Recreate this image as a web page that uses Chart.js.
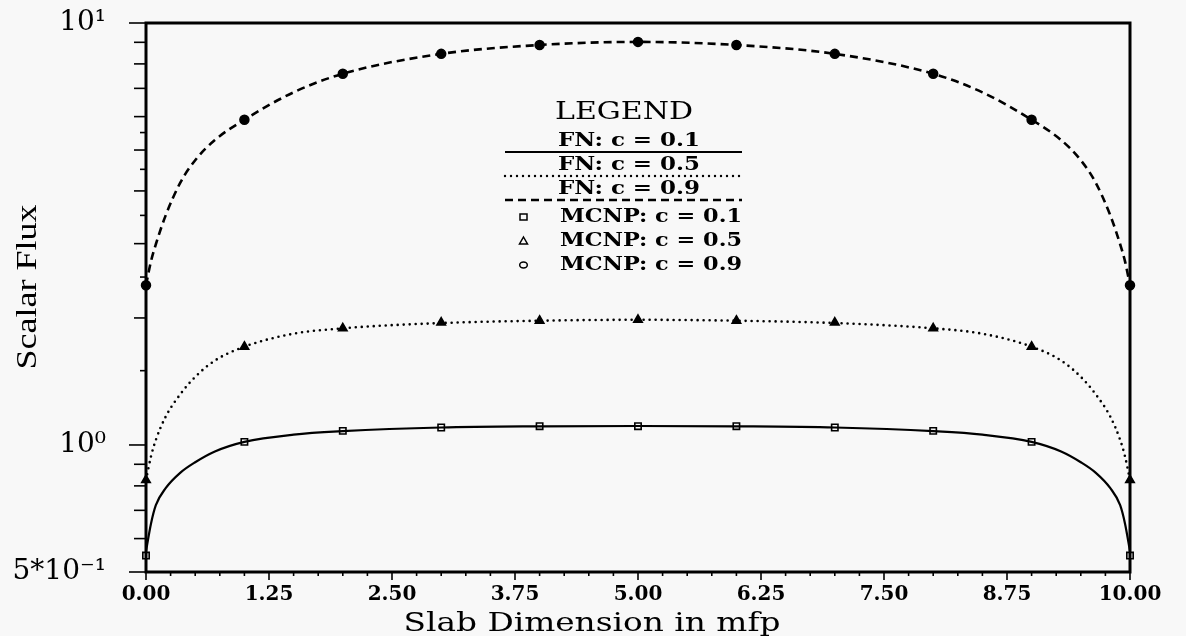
<!DOCTYPE html>
<html>
<head>
<meta charset="utf-8">
<title>Scalar Flux</title>
<script src="https://cdn.jsdelivr.net/npm/chart.js@4.4.0/dist/chart.umd.min.js"></script>
<style>
  html, body { margin: 0; padding: 0; background: #f8f8f8; }
  #wrap { width: 1186px; height: 636px; position: relative; }
</style>
</head>
<body>
<div id="wrap"><canvas id="fluxChart"></canvas></div>
<script>
// FN solution, sampled across the slab (position in mfp)
const fnX    = [0, 0.05, 0.1, 0.2, 0.35, 0.5, 0.7, 1, 1.5, 2, 3, 4, 5, 6, 7, 8, 8.5, 9, 9.3, 9.5, 9.65, 9.8, 9.9, 9.95, 10];
const fnC01  = [0.56, 0.65, 0.72, 0.79, 0.86, 0.91, 0.965, 1.017, 1.058, 1.078, 1.10, 1.107, 1.109, 1.107, 1.10, 1.078, 1.058, 1.017, 0.965, 0.91, 0.86, 0.79, 0.72, 0.65, 0.56];
const fnC05  = [0.826, 0.938, 1.028, 1.167, 1.32, 1.45, 1.585, 1.71, 1.835, 1.89, 1.945, 1.97, 1.98, 1.97, 1.945, 1.89, 1.835, 1.71, 1.585, 1.45, 1.32, 1.167, 1.028, 0.938, 0.826];
const fnC09  = [2.39, 2.72, 2.99, 3.50, 4.19, 4.73, 5.28, 5.90, 6.85, 7.58, 8.45, 8.87, 9.02, 8.87, 8.45, 7.58, 6.85, 5.90, 5.28, 4.73, 4.19, 3.50, 2.99, 2.72, 2.39];

// MCNP tallies at whole mfp positions
const mcnpX   = [0, 1, 2, 3, 4, 5, 6, 7, 8, 9, 10];
const mcnpC01 = [0.547, 1.017, 1.08, 1.10, 1.108, 1.108, 1.108, 1.10, 1.08, 1.017, 0.547];
const mcnpC05 = [0.826, 1.71, 1.89, 1.95, 1.97, 1.98, 1.97, 1.95, 1.89, 1.71, 0.826];
const mcnpC09 = [2.39, 5.90, 7.58, 8.45, 8.87, 9.02, 8.87, 8.45, 7.58, 5.90, 2.39];

// axis ticks
const xTickValues = [0, 1.25, 2.5, 3.75, 5, 6.25, 7.5, 8.75, 10];
const yTickValues = [0.5, 0.6, 0.7, 0.8, 0.9, 1, 1.5, 2, 2.5, 3, 3.5, 4, 4.5, 5, 5.5, 6, 7, 8, 9, 10];
const yLabelValues = [0.5, 1, 10];
const yLabelTexts  = ['5*10\u207B\u00B9', '10\u2070', '10\u00B9'];

const legendTitle = 'LEGEND';
const legendLines = ['FN: c = 0.1', 'FN: c = 0.5', 'FN: c = 0.9'];
const legendMarks = ['MCNP: c = 0.1', 'MCNP: c = 0.5', 'MCNP: c = 0.9'];

function toPoints(xs, ys) {
    return xs.map(function(x, i) { return { x: x, y: ys[i] }; });
}

// draw text squeezed/stretched to a given width
function fitText(ctx, text, x, y, width, align) {
    const w = ctx.measureText(text).width;
    ctx.save();
    ctx.translate(x, y);
    ctx.scale(width / w, 1);
    ctx.textAlign = 'left';
    ctx.fillText(text, align === 'center' ? -w / 2 : 0, 0);
    ctx.restore();
}

const framePlugin = {
    id: 'frameAndLegend',
    afterDraw: function(chart) {
        const ctx = chart.ctx;
        const area = chart.chartArea;
        const xs = chart.scales.x;
        const ys = chart.scales.y;
        ctx.save();
        ctx.strokeStyle = '#000';
        ctx.fillStyle = '#000';

        // x tick marks every 0.25, longer at labelled ones
        ctx.lineWidth = 1.6;
        for (let i = 0; i <= 40; i++) {
            const px = xs.getPixelForValue(i * 0.25);
            const len = (i % 5 === 0) ? 8 : 4;
            ctx.beginPath();
            ctx.moveTo(px, area.bottom);
            ctx.lineTo(px, area.bottom + len);
            ctx.stroke();
        }
        // y tick marks
        yTickValues.forEach(function(v) {
            const py = ys.getPixelForValue(v);
            let len = 12;
            if (yLabelValues.indexOf(v) >= 0) len = 17;
            else if (v > 1 && v % 1 !== 0) len = 6;
            ctx.beginPath();
            ctx.moveTo(area.left, py);
            ctx.lineTo(area.left - len, py);
            ctx.stroke();
        });

        // frame
        ctx.lineWidth = 3;
        ctx.strokeRect(area.left, area.top, area.right - area.left, area.bottom - area.top);

        // axis titles
        ctx.textBaseline = 'middle';
        ctx.font = '26px "DejaVu Serif"';
        fitText(ctx, 'Slab Dimension in mfp', 592, 624, 377, 'center');
        ctx.save();
        ctx.translate(28, 287);
        ctx.rotate(-Math.PI / 2);
        ctx.font = '29px "Liberation Serif"';
        fitText(ctx, 'Scalar Flux', 0, 0, 165, 'center');
        ctx.restore();

        // legend box
        ctx.font = '25px "DejaVu Serif"';
        fitText(ctx, legendTitle, 624, 112, 138, 'center');

        ctx.font = 'bold 19px "DejaVu Serif"';
        const lineY = [141, 165, 189];
        const dashes = [[], [0, 6], [8, 5]];
        legendLines.forEach(function(t, i) {
            fitText(ctx, t, 558, lineY[i], 142, 'left');
            ctx.save();
            ctx.lineWidth = i === 0 ? 2.2 : 2.4;
            ctx.lineCap = i === 1 ? 'round' : 'butt';
            ctx.setLineDash(dashes[i]);
            ctx.beginPath();
            ctx.moveTo(505, lineY[i] + 11);
            ctx.lineTo(742, lineY[i] + 11);
            ctx.stroke();
            ctx.restore();
        });

        const markY = [217, 241, 265];
        legendMarks.forEach(function(t, i) {
            fitText(ctx, t, 560, markY[i], 182, 'left');
        });
        ctx.lineWidth = 1.5;
        ctx.strokeRect(520, markY[0] - 3, 7, 6);
        ctx.beginPath();
        ctx.moveTo(523.5, markY[1] - 4);
        ctx.lineTo(527.5, markY[1] + 3);
        ctx.lineTo(519.5, markY[1] + 3);
        ctx.closePath();
        ctx.stroke();
        ctx.beginPath();
        ctx.ellipse(523.5, markY[2], 3.8, 3, 0, 0, Math.PI * 2);
        ctx.stroke();

        ctx.restore();
    }
};

const lineBase = {
    borderColor: '#000',
    pointRadius: 0,
    fill: false,
    cubicInterpolationMode: 'monotone'
};

const markBase = {
    showLine: false,
    pointBorderColor: '#000',
    clip: false
};

Chart.defaults.font.family = '"DejaVu Serif"';
Chart.defaults.color = '#000';

new Chart(document.getElementById('fluxChart'), {
    type: 'line',
    data: {
        datasets: [
            Object.assign({ label: legendLines[0], data: toPoints(fnX, fnC01), borderWidth: 2.2 }, lineBase),
            Object.assign({ label: legendLines[1], data: toPoints(fnX, fnC05), borderWidth: 2.6,
                borderDash: [0, 6], borderCapStyle: 'round' }, lineBase),
            Object.assign({ label: legendLines[2], data: toPoints(fnX, fnC09), borderWidth: 2.6,
                borderDash: [8, 5] }, lineBase),
            Object.assign({ label: legendMarks[0], data: toPoints(mcnpX, mcnpC01), pointStyle: 'rect',
                pointRadius: 4.5, pointBorderWidth: 1.6, pointBackgroundColor: 'rgba(0,0,0,0)' }, markBase),
            Object.assign({ label: legendMarks[1], data: toPoints(mcnpX, mcnpC05), pointStyle: 'triangle',
                pointRadius: 5, pointBorderWidth: 1.5, pointBackgroundColor: '#000' }, markBase),
            Object.assign({ label: legendMarks[2], data: toPoints(mcnpX, mcnpC09), pointStyle: 'circle',
                pointRadius: 4.5, pointBorderWidth: 1.5, pointBackgroundColor: '#000' }, markBase)
        ]
    },
    options: {
        responsive: true,
        maintainAspectRatio: false,
        animation: false,
        layout: { padding: { left: 0, top: 23, right: 56, bottom: 0 } },
        plugins: {
            legend: { display: false },
            tooltip: { enabled: false }
        },
        scales: {
            x: {
                type: 'linear',
                min: 0,
                max: 10,
                afterBuildTicks: function(scale) {
                    scale.ticks = xTickValues.map(function(v) { return { value: v }; });
                },
                afterFit: function(scale) {
                    scale.height = 64;
                    scale.paddingLeft = 0;
                    scale.paddingRight = 0;
                },
                grid: { display: false, drawTicks: false },
                border: { display: false },
                ticks: {
                    autoSkip: false,
                    maxRotation: 0,
                    padding: 11,
                    font: { size: 20, weight: 'bold' },
                    callback: function(v) { return Number(v).toFixed(2); }
                }
            },
            y: {
                type: 'logarithmic',
                min: 0.5,
                max: 10,
                afterBuildTicks: function(scale) {
                    scale.ticks = yTickValues.map(function(v) { return { value: v }; });
                },
                afterFit: function(scale) {
                    scale.width = 146;
                    scale.paddingTop = 0;
                    scale.paddingBottom = 0;
                },
                grid: { display: false, drawTicks: false },
                border: { display: false },
                ticks: {
                    autoSkip: false,
                    padding: 40,
                    font: { size: 28 },
                    callback: function(v) {
                        for (let i = 0; i < yLabelValues.length; i++) {
                            if (Math.abs(yLabelValues[i] - v) < 1e-9) return yLabelTexts[i];
                        }
                        return '';
                    }
                }
            }
        }
    },
    plugins: [framePlugin]
});
</script>
</body>
</html>
